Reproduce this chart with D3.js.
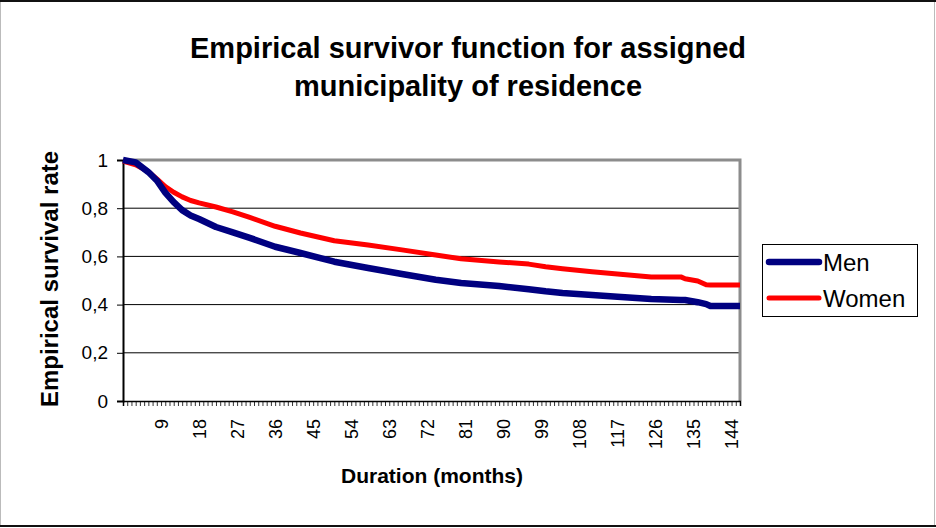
<!DOCTYPE html>
<html>
<head>
<meta charset="utf-8">
<script src="https://cdn.jsdelivr.net/npm/d3@7"></script>
<style>
  body { margin: 0; background: #fff; }
  text { font-family: "Liberation Sans", Arial, sans-serif; }
</style>
</head>
<body>
<svg></svg>
<script>
const size = {w: 936, h: 528};
const plot = {l: 123, r: 740, t: 160, b: 401};

const months = [0, 3, 6, 8, 10, 12, 14, 16, 18, 22, 26, 30, 36, 42, 50, 58, 66, 74, 80, 89,
    96, 100, 104, 111, 117, 125, 132, 133, 136, 138, 139, 146];
const men = [1.0, 0.99, 0.95, 0.915, 0.865, 0.825, 0.792, 0.77, 0.755, 0.722, 0.70, 0.677, 0.64,
    0.614, 0.578, 0.552, 0.527, 0.503, 0.49, 0.477, 0.464, 0.455, 0.448, 0.44, 0.433, 0.423,
    0.419, 0.419, 0.41, 0.402, 0.394, 0.394];
const women = [0.995, 0.98, 0.952, 0.922, 0.89, 0.866, 0.847, 0.832, 0.822, 0.805, 0.785, 0.762,
    0.725, 0.697, 0.665, 0.647, 0.627, 0.606, 0.59, 0.577, 0.568, 0.557, 0.549, 0.536, 0.527,
    0.515, 0.515, 0.507, 0.498, 0.482, 0.481, 0.481];

const categories = d3.range(0, 147);
const xTickLabels = [9, 18, 27, 36, 45, 54, 63, 72, 81, 90, 99, 108, 117, 126, 135, 144];
const yTicks = [0, 0.2, 0.4, 0.6, 0.8, 1];

const series = [
    {name: 'Men', values: men, color: '#000080', width: 6.5},
    {name: 'Women', values: women, color: '#ff0000', width: 5}
];

const svg = d3.select('svg')
    .attr('width', size.w)
    .attr('height', size.h);

// outer chart frame
svg.append('rect')
    .attr('x', 0.5).attr('y', 0.5)
    .attr('width', size.w - 2).attr('height', size.h - 2)
    .attr('fill', '#fff')
    .attr('stroke', '#bbb');
svg.append('line').attr('x1', 0).attr('x2', size.w).attr('y1', 1).attr('y2', 1)
    .attr('stroke', '#111').attr('stroke-width', 2);
svg.append('line').attr('x1', 0).attr('x2', size.w).attr('y1', 526).attr('y2', 526)
    .attr('stroke', '#111').attr('stroke-width', 2);

// title
svg.append('text')
    .attr('x', 468)
    .attr('text-anchor', 'middle')
    .style('font-size', '29px')
    .style('font-weight', 'bold')
    .selectAll('tspan')
    .data(['Empirical survivor function for assigned', 'municipality of residence'])
    .join('tspan')
    .attr('x', 468)
    .attr('y', (d, i) => 58 + i * 38)
    .text(d => d);

const x = d3.scalePoint().domain(categories).range([plot.l, plot.r]);
const y = d3.scaleLinear().domain([0, 1]).range([plot.b, plot.t]);

// gridlines
svg.append('g')
    .selectAll('line')
    .data(yTicks.slice(1))
    .join('line')
    .attr('x1', plot.l).attr('x2', plot.r)
    .attr('y1', d => y(d)).attr('y2', d => y(d))
    .attr('stroke', '#000')
    .attr('stroke-width', 1);

// plot area border (top and right)
svg.append('path')
    .attr('d', `M${plot.l},${plot.t}H${plot.r}V${plot.b}`)
    .attr('fill', 'none')
    .attr('stroke', '#8c8c8c')
    .attr('stroke-width', 3);

// y axis
const yAxis = svg.append('g')
    .attr('transform', `translate(${plot.l},0)`)
    .call(d3.axisLeft(y)
        .tickValues(yTicks)
        .tickSize(6)
        .tickPadding(9)
        .tickFormat(d => String(d).replace('.', ',')));
yAxis.select('.domain').attr('stroke', '#000').attr('stroke-width', 2);
yAxis.selectAll('text').style('font-size', '19px').attr('fill', '#000');

// x axis
const xAxis = svg.append('g')
    .attr('transform', `translate(0,${plot.b})`)
    .call(d3.axisBottom(x)
        .tickValues(categories)
        .tickSize(5)
        .tickFormat(d => xTickLabels.includes(d) ? d : ''));
xAxis.select('.domain').attr('stroke', '#000').attr('stroke-width', 1.5);
xAxis.selectAll('.tick line').attr('stroke', '#000').attr('stroke-width', 0.8);
xAxis.selectAll('text')
    .style('font-size', '18px')
    .attr('fill', '#000')
    .attr('text-anchor', 'end')
    .attr('transform', 'rotate(-90)')
    .attr('x', -18)
    .attr('y', 0)
    .attr('dy', '0.35em');

// axis titles
svg.append('text')
    .attr('transform', 'translate(58,279) rotate(-90)')
    .attr('text-anchor', 'middle')
    .style('font-size', '24px')
    .style('font-weight', 'bold')
    .text('Empirical survival rate');

svg.append('text')
    .attr('x', 432)
    .attr('y', 483)
    .attr('text-anchor', 'middle')
    .style('font-size', '21px')
    .style('font-weight', 'bold')
    .text('Duration (months)');

// survival lines
const line = d3.line()
    .x(d => x(d.m))
    .y(d => y(d.v));

svg.append('g')
    .selectAll('path')
    .data(series.slice().reverse())
    .join('path')
    .attr('d', s => line(s.values.map((v, i) => ({m: months[i], v: v}))))
    .attr('fill', 'none')
    .attr('stroke', s => s.color)
    .attr('stroke-width', s => s.width)
    .attr('stroke-linejoin', 'round');

// legend
const legend = svg.append('g');
legend.append('rect')
    .attr('x', 762.5).attr('y', 244.5)
    .attr('width', 155).attr('height', 72)
    .attr('fill', '#fff')
    .attr('stroke', '#000');

const item = legend.selectAll('g')
    .data(series)
    .join('g')
    .attr('transform', (d, i) => `translate(0,${262 + i * 36})`);
item.append('line')
    .attr('x1', 769).attr('x2', 819)
    .attr('stroke', d => d.color)
    .attr('stroke-width', d => d.width)
    .attr('stroke-linecap', 'round');
item.append('text')
    .attr('x', 823)
    .attr('y', 9)
    .style('font-size', '24px')
    .text(d => d.name);
</script>
</body>
</html>
